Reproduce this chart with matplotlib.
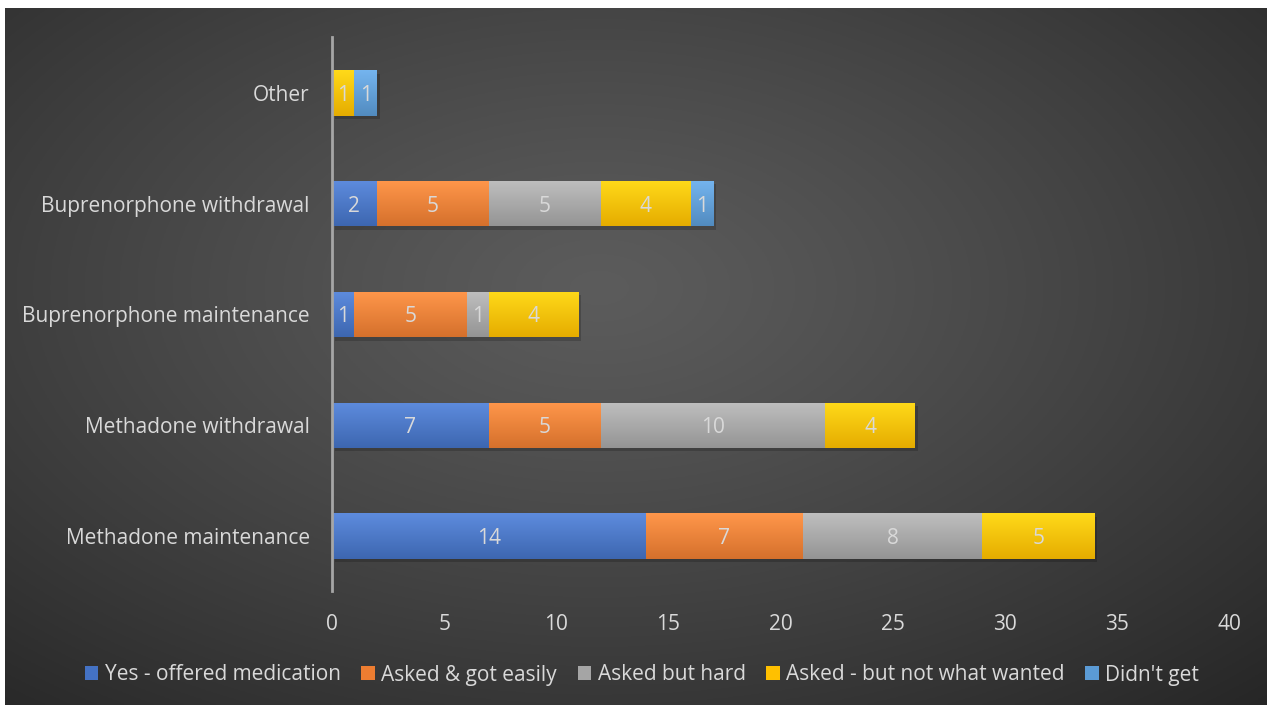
import numpy as np
import matplotlib
matplotlib.use("Agg")
import matplotlib.pyplot as plt
from matplotlib.colors import to_rgb

categories = ["Methadone maintenance", "Methadone withdrawal", "Buprenorphone maintenance",
              "Buprenorphone withdrawal", "Other"]
series_names = ["Yes - offered medication", "Asked & got easily", "Asked but hard",
                "Asked - but not what wanted", "Didn't get"]
yes_offered = [14, 7, 1, 2, 0]
asked_easily = [7, 5, 5, 5, 0]
asked_hard = [8, 10, 1, 5, 0]
asked_not_wanted = [5, 4, 4, 4, 1]
didnt_get = [0, 0, 0, 1, 1]
series_values = [yes_offered, asked_easily, asked_hard, asked_not_wanted, didnt_get]
colors = ["#4472C4", "#ED7D31", "#A5A5A5", "#FFC000", "#5B9BD5"]
xticks = [0, 5, 10, 15, 20, 25, 30, 35, 40]

plt.rcParams['font.family'] = ['Open Sans', 'DejaVu Sans']
txt = "#D9D9D9"
FS = 15

fig = plt.figure(figsize=(12.72, 7.11), dpi=100, facecolor="white")

# background radial gradient panel
bg = fig.add_axes([5/1272, 1-705/711, 1262/1272, 697/711])
bg.set_axis_off()
h, w = 300, 540
yy, xx = np.mgrid[0:h, 0:w]
cx, cy = w*0.47, h*0.40
r = np.sqrt(((xx-cx)/w)**2 + ((yy-cy)/h)**2*0.9)
r = r / r.max()
val = 0.36 - 0.21*r**1.2
img = np.dstack([val, val, val])
bg.imshow(img, aspect='auto', extent=[0, 1, 0, 1], origin='upper')
bg.set_xlim(0, 1); bg.set_ylim(0, 1)

ax = fig.add_axes([332/1272, 1-591.5/711, (1229-332)/1272, (591.5-37.5)/711])
ax.set_facecolor("none")
y = np.arange(len(categories))
bh = 0.41
left = np.zeros(len(categories))
for name, vals, c in zip(series_names, series_values, colors):
    vals = np.array(vals, dtype=float)
    ax.barh(y - 0.03, vals, left=left + 0.12, height=bh, color="black", alpha=0.18,
            zorder=1, linewidth=0)
    bars = ax.barh(y, vals, left=left, height=bh, color=c, label=name, zorder=2, linewidth=0)
    base = np.array(to_rgb(c))
    top = np.clip(base + 0.10, 0, 1)
    bot = np.clip(base * 0.90, 0, 1)
    grad = np.linspace(0, 1, 50)[:, None, None]
    gimg = top[None, None, :] * (1 - grad) + bot[None, None, :] * grad
    for b, v in zip(bars, vals):
        if v <= 0:
            continue
        x0, y0 = b.get_x(), b.get_y()
        im = ax.imshow(gimg, extent=[x0, x0 + b.get_width(), y0, y0 + b.get_height()],
                       origin='upper', aspect='auto', zorder=2.5)
        im.set_clip_path(b)
        ax.text(x0 + b.get_width()/2, b.get_y() + b.get_height()/2, f"{int(v)}",
                ha='center', va='center_baseline', color=txt, fontsize=FS, zorder=3)
    left += vals

ax.set_xlim(0, 40)
ax.set_ylim(-0.5, len(categories) - 0.5)
ax.set_yticks(y)
ax.set_yticklabels(categories, color=txt, fontsize=FS)
ax.set_xticks(xticks)
ax.set_xticklabels([str(t) for t in xticks], color=txt, fontsize=FS)
ax.tick_params(axis='both', length=0)
ax.tick_params(axis='y', pad=16)
ax.tick_params(axis='x', pad=16)
for s in ["top", "right", "bottom"]:
    ax.spines[s].set_visible(False)
ax.spines["left"].set_color("#A6A6A6")
ax.spines["left"].set_linewidth(2)
ax.spines["left"].set_zorder(4)

handles, labels = ax.get_legend_handles_labels()
leg = fig.legend(handles, labels, loc='center', bbox_to_anchor=(642/1272, 1-675/711),
                 ncol=5, frameon=False, fontsize=FS, handlelength=0.65, handleheight=0.65,
                 handletextpad=0.3, columnspacing=1.0, labelcolor=txt)

fig.savefig("out.png", dpi=100, facecolor="white")
